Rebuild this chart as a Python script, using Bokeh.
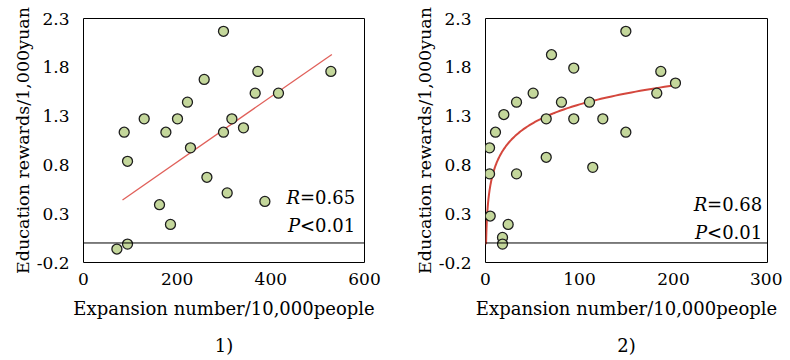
import numpy as np
from bokeh.plotting import figure
from bokeh.layouts import row
from bokeh.models import Range1d, FixedTicker, Span
from bokeh.core.properties import value
from bokeh.embed import file_html
from bokeh.resources import INLINE

FONT = "DejaVu Serif"

# ---- data: panel 1 ----
x1 = [86.9, 94.0, 129.6, 175.9, 200.7, 222.0, 228.4, 257.7, 263.5, 298.9, 298.9, 316.8,
      341.6, 366.6, 372.3, 416.3, 528.2, 306.8, 387.3, 162.3, 185.7, 71.3, 94.0]
y1 = [1.135, 0.837, 1.272, 1.135, 1.272, 1.443, 0.975, 1.676, 0.673, 2.169, 1.135, 1.272,
      1.18, 1.535, 1.758, 1.535, 1.758, 0.513, 0.426, 0.392, 0.19, -0.062, -0.011]
fit1_x = [83.3, 530.3]
fit1_y = [0.441, 1.932]
stats1 = ["=0.65", "<0.01"]

# ---- data: panel 2 ----
x2 = [4.3, 10.6, 19.5, 33.0, 50.7, 64.6, 64.6, 70.2, 80.8, 93.9, 93.9, 110.6, 114.1,
      124.8, 149.3, 149.3, 182.2, 186.5, 202.1, 4.3, 33.0, 5.0, 24.1, 18.1, 18.1]
y2 = [0.975, 1.135, 1.316, 1.443, 1.535, 1.272, 0.878, 1.929, 1.443, 1.792, 1.272, 1.443,
      0.775, 1.272, 2.169, 1.135, 1.535, 1.758, 1.638, 0.708, 0.708, 0.276, 0.19, 0.057, -0.011]
fit2_a = 0.28   # y = a*ln(x) + b
fit2_b = 0.13
fit2_range = [0.6, 202.0]
stats2 = ["=0.68", "<0.01"]

y_ticks = [-0.2, 0.3, 0.8, 1.3, 1.8, 2.3]
x1_ticks = [0, 200, 400, 600]
x2_ticks = [0, 100, 200, 300]

X_TITLE = "Expansion number/10,000people"
Y_TITLE = "Education rewards/1,000yuan"


def make_panel(xmax, xticks, border_left, border_right, frame_w, subtitle):
    p = figure(width=border_left + frame_w + border_right, height=358,
               x_range=Range1d(0, xmax), y_range=Range1d(-0.2, 2.3),
               output_backend="svg", toolbar_location=None,
               min_border_left=border_left, min_border_right=border_right,
               min_border_top=18, min_border_bottom=96)
    p.grid.visible = False
    p.outline_line_color = "black"
    p.outline_line_width = 1
    p.outline_line_alpha = 1
    p.background_fill_color = "white"
    p.border_fill_color = "white"

    p.xaxis.ticker = FixedTicker(ticks=xticks)
    p.yaxis.ticker = FixedTicker(ticks=y_ticks)
    p.yaxis.major_label_overrides = {t: f"{t:.1f}" for t in y_ticks}
    for ax in (p.xaxis, p.yaxis):
        ax.axis_line_color = None
        ax.major_tick_line_color = None
        ax.minor_tick_line_color = None
        ax.major_tick_out = 0
        ax.major_tick_in = 0
        ax.major_label_text_font = FONT
        ax.major_label_text_font_size = "17px"
        ax.major_label_text_color = "black"
        ax.axis_label_text_font = FONT
        ax.axis_label_text_font_size = "18px"
        ax.axis_label_text_font_style = "normal"
        ax.axis_label_text_color = "black"
    p.yaxis.axis_label_text_font_size = "17.5px"
    p.xaxis.major_label_standoff = 10
    p.yaxis.major_label_standoff = 14
    p.xaxis.axis_label = X_TITLE + "\n" + subtitle
    p.xaxis.axis_label_text_line_height = 1.77
    p.yaxis.axis_label = Y_TITLE
    p.xaxis.axis_label_standoff = 10
    p.yaxis.axis_label_standoff = 1

    p.add_layout(Span(location=0, dimension="width", line_color="black", line_width=1))
    return p


def add_stats(p, xr, yr_list, stats):
    for yv, s, lab in zip(yr_list, stats, ["R", "P"]):
        p.text(x=[xr], y=[yv], text=[s], text_align="right", text_baseline="alphabetic",
               text_font=value(FONT), text_font_size="18px", text_color="black")
        p.text(x=[xr], y=[yv], text=[lab], text_align="right", text_baseline="alphabetic",
               x_offset=-55, text_font=value(FONT), text_font_size="18px",
               text_font_style="italic", text_color="black")


MARK_FILL = "#c4d79b"
MARK_LINE = "#1e1e1e"

p1 = make_panel(600, x1_ticks, 83, 44, 281, "1)")
p1.line(fit1_x, fit1_y, line_color="#e0605a", line_width=1.3)
p1.scatter(x1, y1, size=10, fill_color=MARK_FILL, line_color=MARK_LINE, line_width=1.3)
add_stats(p1, 580, [0.464, 0.177], stats1)

p2 = make_panel(300, x2_ticks, 77, 15, 282, "2)")
cx = np.geomspace(fit2_range[0], fit2_range[1], 200)
cy = fit2_a * np.log(cx) + fit2_b
p2.line(cx, cy, line_color="#d4473d", line_width=2)
p2.scatter(x2, y2, size=10, fill_color=MARK_FILL, line_color=MARK_LINE, line_width=1.3)
add_stats(p2, 294.4, [0.392, 0.105], stats2)

layout = row(p1, p2)
open("out.html", "w").write(file_html(layout, INLINE))
